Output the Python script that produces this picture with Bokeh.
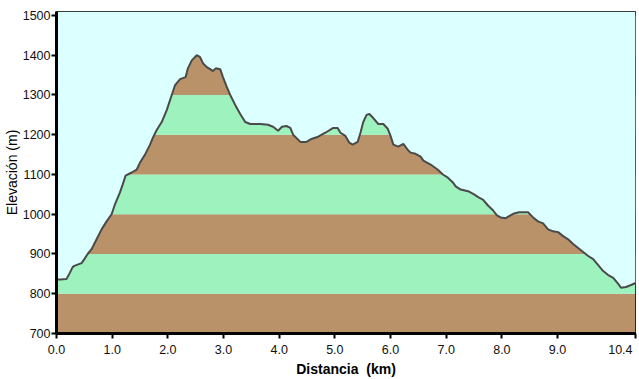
from bokeh.plotting import figure
from bokeh.models import FixedTicker, Range1d
from bokeh.embed import file_html
from bokeh.resources import INLINE

# Elevation profile
distance_km = [0.00, 0.18, 0.23, 0.29, 0.32, 0.45, 0.50, 0.56, 0.63, 0.72, 0.81, 0.90,
               0.99, 1.05, 1.14, 1.19, 1.24, 1.35, 1.44, 1.50, 1.59, 1.68, 1.73, 1.80,
               1.89, 1.98, 2.07, 2.13, 2.22, 2.32, 2.36, 2.43, 2.52, 2.58, 2.63, 2.70,
               2.76, 2.81, 2.86, 2.94, 2.99, 3.06, 3.12, 3.21, 3.30, 3.39, 3.48, 3.66,
               3.80, 3.89, 3.98, 4.05, 4.13, 4.20, 4.25, 4.38, 4.49, 4.59, 4.70, 4.83,
               4.97, 5.05, 5.10, 5.19, 5.26, 5.32, 5.41, 5.46, 5.51, 5.57, 5.62, 5.69,
               5.78, 5.87, 5.95, 6.00, 6.05, 6.14, 6.23, 6.31, 6.36, 6.45, 6.54, 6.59,
               6.72, 6.85, 6.94, 7.03, 7.12, 7.17, 7.26, 7.41, 7.50, 7.59, 7.66, 7.75,
               7.84, 7.91, 7.98, 8.07, 8.13, 8.22, 8.31, 8.47, 8.56, 8.65, 8.74, 8.83,
               8.92, 9.01, 9.10, 9.19, 9.28, 9.37, 9.46, 9.55, 9.64, 9.73, 9.82, 9.91,
               10.00, 10.09, 10.14, 10.23, 10.32, 10.40]
elevation_m = [835, 837, 850, 867, 870, 877, 887, 900, 912, 937, 962, 982,
               1000, 1025, 1055, 1075, 1097, 1105, 1112, 1130, 1150, 1175, 1192, 1212,
               1232, 1262, 1300, 1325, 1340, 1345, 1367, 1387, 1400, 1395, 1380, 1370,
               1365, 1360, 1367, 1365, 1345, 1320, 1300, 1275, 1252, 1232, 1227, 1227,
               1225, 1220, 1210, 1220, 1222, 1217, 1200, 1182, 1182, 1190, 1195, 1205,
               1217, 1217, 1205, 1197, 1180, 1175, 1182, 1205, 1232, 1250, 1252, 1242,
               1227, 1227, 1215, 1197, 1175, 1170, 1177, 1162, 1155, 1152, 1145, 1135,
               1125, 1112, 1100, 1092, 1080, 1070, 1062, 1057, 1050, 1042, 1037, 1022,
               1010, 997, 992, 990, 995, 1002, 1005, 1005, 992, 982, 977, 962,
               957, 955, 945, 937, 925, 915, 905, 895, 887, 872, 857, 847,
               840, 825, 815, 817, 822, 827]

band_bottoms = [700, 800, 900, 1000, 1100, 1200, 1300, 1400]
band_tops = [800, 900, 1000, 1100, 1200, 1300, 1400, 1500]
band_colors = ["#B9926A", "#9DF2BE", "#B9926A", "#9DF2BE",
               "#B9926A", "#9DF2BE", "#B9926A", "#9DF2BE"]

x_ticks = [0, 1, 2, 3, 4, 5, 6, 7, 8, 9, 10.4]
x_tick_labels = ["0.0", "1.0", "2.0", "3.0", "4.0", "5.0", "6.0", "7.0", "8.0", "9.0", "10.4"]
y_ticks = [700, 800, 900, 1000, 1100, 1200, 1300, 1400, 1500]

X_MIN, X_MAX = 0, 10.4
Y_MIN, Y_MAX = 700, 1510
SKY = "#DCFFFF"
FONT = "Liberation Sans"

p = figure(width=639, height=379, output_backend="svg", toolbar_location=None,
           x_range=Range1d(X_MIN, X_MAX), y_range=Range1d(Y_MIN, Y_MAX),
           min_border_left=0, min_border_right=4, min_border_top=11, min_border_bottom=44)
p.background_fill_color = SKY
p.border_fill_color = "white"
p.outline_line_color = "black"
p.outline_line_width = 1
p.grid.visible = False

p.quad(left=X_MIN, right=X_MAX, bottom=band_bottoms, top=band_tops,
       fill_color=band_colors, line_color=None)
p.varea(x=distance_km, y1=elevation_m, y2=Y_MAX, fill_color=SKY)
p.line(distance_km, elevation_m, line_color="#4a4a4a", line_width=2)

for ax in (p.xaxis[0], p.yaxis[0]):
    ax.axis_line_color = "black"
    ax.axis_line_width = 3
    ax.major_tick_line_color = "black"
    ax.major_tick_line_width = 2
    ax.major_tick_in = 0
    ax.major_tick_out = 5
    ax.minor_tick_line_color = None
    ax.major_label_text_font = FONT
    ax.major_label_text_font_size = "12.5px"
    ax.major_label_text_color = "#111111"
    ax.axis_label_text_font = FONT
    ax.axis_label_text_font_size = "14px"
    ax.axis_label_text_color = "#000000"

p.xaxis.ticker = FixedTicker(ticks=x_ticks)
# last label padded on the right so that it ends at the frame edge, as in the reference
p.xaxis.major_label_overrides = {t: (s if t != X_MAX else s + "\u00a0" * 2)
                                 for t, s in zip(x_ticks, x_tick_labels)}
p.xaxis.axis_label = "Distancia\u00a0\u00a0(km)"
p.xaxis.axis_label_text_font_style = "bold"
p.xaxis.major_label_standoff = 4
p.xaxis.axis_label_standoff = 1

p.yaxis.ticker = FixedTicker(ticks=y_ticks)
p.yaxis.axis_label = "Elevación\u00a0(m)"
p.yaxis.axis_label_text_font_style = "normal"
p.yaxis.major_label_standoff = 1
p.yaxis.axis_label_standoff = 0

open("out.html", "w").write(file_html(p, INLINE))
